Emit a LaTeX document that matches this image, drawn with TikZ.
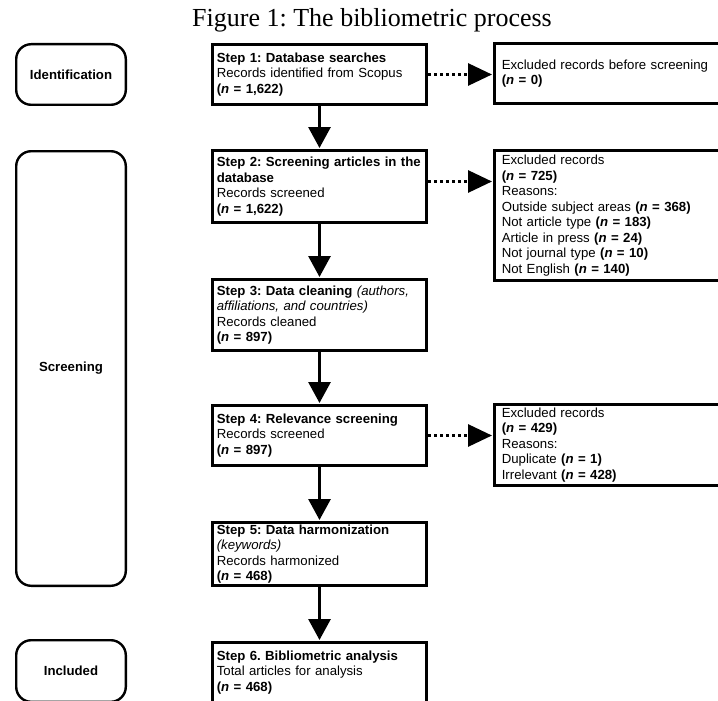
\documentclass[tikz,border=0pt]{standalone}
\usepackage{fontspec}
\setmainfont{Liberation Serif}
\setsansfont{Liberation Sans}
\usetikzlibrary{arrows.meta}
\newcommand{\nval}[1]{\textbf{(\textit{n} = #1)}}
\frenchspacing

\begin{document}
\begin{tikzpicture}[x=1pt,y=-1pt]
\tikzstyle{every node}+=[inner sep=0pt]
\tikzstyle{stepbox}=[draw, line width=2.6pt, minimum width=214.4pt, text width=205.4pt, inner xsep=4.5pt, align=left, font=\sffamily\fontsize{13.2}{15.5}\selectfont]
\tikzstyle{exclbox}=[draw, line width=2.6pt, minimum width=244.4pt, text width=229.4pt, inner xsep=7.5pt, align=left, font=\sffamily\fontsize{13.2}{15.5}\selectfont]
\tikzstyle{phase}=[draw, line width=2.4pt, rounded corners=15pt, minimum width=109.6pt, font=\sffamily\bfseries\fontsize{13.2}{15.5}\selectfont]
\tikzstyle{flow}=[line width=3pt, -{Triangle[length=21pt 0, width=22pt 0]}, shorten >=1pt]
\tikzstyle{skip}=[line width=3pt, dash pattern=on 3pt off 3pt, -{Triangle[length=24pt 0, width=22pt 0]}, shorten >=1pt]
\useasboundingbox (0,0) rectangle (718,701);
\clip (0,0) rectangle (718,701);
\node[anchor=base, font=\fontsize{26}{30}\selectfont] (title) at (372,27) {Figure 1: The bibliometric process};
\node[phase, minimum height=60.6pt] (ident) at (71,74.5) {Identification};
\node[phase, minimum height=434.6pt] (screen) at (71,368.5) {Screening};
\node[phase, minimum height=61.6pt] (incl) at (71,671) {Included};
\node[stepbox, minimum height=60.4pt] (s1) at (319.5,74.5) {\textbf{Step 1: Database searches}\\ Records identified from Scopus\\ \nval{1,622}};
\node[stepbox, minimum height=72.4pt] (s2) at (319.5,186.5) {\textbf{Step 2: Screening articles in the}\\ \textbf{database}\\ Records screened\\ \nval{1,622}};
\node[stepbox, minimum height=71.4pt] (s3) at (319.5,315) {\textbf{Step 3: Data cleaning} \textit{(authors,}\\ \textit{affiliations, and countries)}\\ Records cleaned\\ \nval{897}};
\node[stepbox, minimum height=60.4pt] (s4) at (319.5,435.5) {\textbf{Step 4: Relevance screening}\\ Records screened\\ \nval{897}};
\node[stepbox, minimum height=63.4pt] (s5) at (319.5,554) {\textbf{Step 5: Data harmonization}\\ \textit{(keywords)}\\ Records harmonized\\ \nval{468}};
\node[stepbox, minimum height=60.4pt] (s6) at (319.5,672.5) {\textbf{Step 6. Bibliometric analysis}\\ Total articles for analysis\\ \nval{468}};
\node[exclbox, minimum height=60.4pt] (x0) at (616.5,73.5) {Excluded records before screening\\ \nval{0}};
\node[exclbox, minimum height=130.4pt] (x1) at (616.5,215.5) {Excluded records\\ \nval{725}\\ Reasons:\\ Outside subject areas \nval{368}\\ Not article type \nval{183}\\ Article in press \nval{24}\\ Not journal type \nval{10}\\ Not English \nval{140}};
\node[exclbox, minimum height=81.4pt] (x2) at (616.5,445) {Excluded records\\ \nval{429}\\ Reasons:\\ Duplicate \nval{1}\\ Irrelevant \nval{428}};
\draw[flow] (s1) -- (s2);
\draw[flow] (s2) -- (s3);
\draw[flow] (s3) -- (s4);
\draw[flow] (s4) -- (s5);
\draw[flow] (s5) -- (s6);
\draw[skip] (s1.east) -- (s1.east -| x0.west);
\draw[skip] ([yshift=5pt]s2.east) -- ([yshift=5pt]s2.east -| x1.west);
\draw[skip] (s4.east) -- (s4.east -| x2.west);
\end{tikzpicture}
\end{document}
